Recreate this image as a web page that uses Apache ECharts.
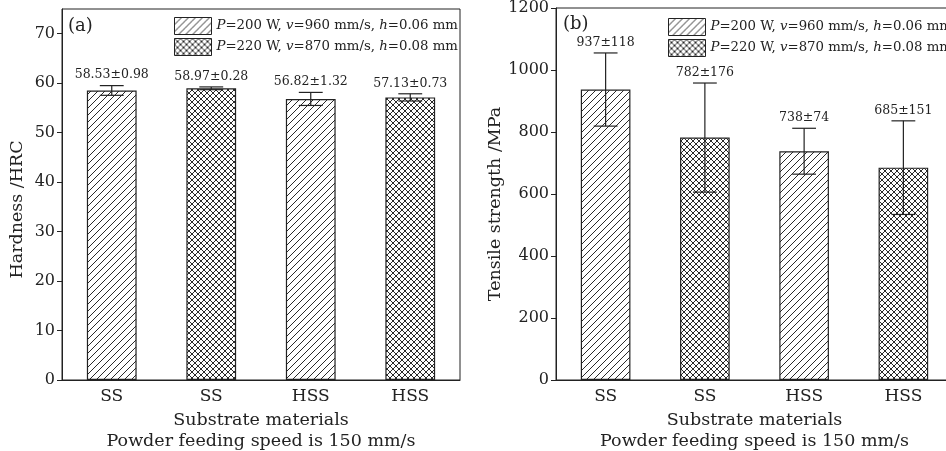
<!DOCTYPE html>
<html><head><meta charset="utf-8">
<script src="https://cdn.jsdelivr.net/npm/echarts@6/dist/echarts.min.js"></script>
<style>html,body{margin:0;padding:0;background:#fff}#c{width:946px;height:451px}</style>
</head><body><div id="c"></div>
<script>
// ---------------- data ----------------
const categories = ['SS', 'SS', 'HSS', 'HSS'];
const seriesNames = ['P=200 W, v=960 mm/s, h=0.06 mm', 'P=220 W, v=870 mm/s, h=0.08 mm'];
const barGroup = [0, 1, 0, 1];            // parameter set of each bar
const hardnessMean = [58.53, 58.97, 56.82, 57.13];
const hardnessErr = [0.98, 0.28, 1.32, 0.73];
const tensileMean = [937, 782, 738, 685];
const tensileErr = [118, 176, 74, 151];
const hardnessTicks = [0, 10, 20, 30, 40, 50, 60, 70];
const tensileTicks = [0, 200, 400, 600, 800, 1000, 1200];
const panelLabels = ['(a)', '(b)'];
const yTitles = ['Hardness /HRC', 'Tensile strength /MPa'];
const xTitle = 'Substrate materials\nPowder feeding speed is 150 mm/s';

// ---------------- style ----------------
const ink = '#222';
const FONT = 'DejaVu Serif';

function makePattern(kind) {
  const s = kind === 'diag' ? 7 : 6;
  const cv = document.createElement('canvas');
  cv.width = s; cv.height = s;
  const ctx = cv.getContext('2d');
  ctx.fillStyle = '#fff'; ctx.fillRect(0, 0, s, s);
  ctx.strokeStyle = '#2a2a2a'; ctx.lineWidth = 1;
  const seg = (a, b, c, d) => { ctx.beginPath(); ctx.moveTo(a, b); ctx.lineTo(c, d); ctx.stroke(); };
  seg(-1, s + 1, s + 1, -1); seg(-1, 1, 1, -1); seg(s - 1, s + 1, s + 1, s - 1);
  if (kind === 'cross') {
    seg(-1, -1, s + 1, s + 1); seg(s - 1, -1, s + 1, 1); seg(-1, s - 1, 1, s + 1);
  }
  return { image: cv, repeat: 'repeat' };
}
const patterns = [makePattern('diag'), makePattern('cross')];

function splitByGroup(vals, g) {
  return vals.map((v, i) => (barGroup[i] === g ? v : '-'));
}

function errorRenderer(fontSize, fmt) {
  return function (params, api) {
    const i = api.value(0), v = api.value(1), e = api.value(2);
    const top = api.coord([i, v + e]);
    const bot = api.coord([i, v - e]);
    const half = api.size([1, 0])[0] * 0.5 * 0.24;
    const ls = { stroke: ink, lineWidth: 1.2 };
    return {
      type: 'group',
      children: [
        { type: 'line', shape: { x1: top[0], y1: top[1], x2: bot[0], y2: bot[1] }, style: ls },
        { type: 'line', shape: { x1: top[0] - half, y1: top[1], x2: top[0] + half, y2: top[1] }, style: ls },
        { type: 'line', shape: { x1: bot[0] - half, y1: bot[1], x2: bot[0] + half, y2: bot[1] }, style: ls },
        { type: 'text', x: top[0], y: top[1] - 4,
          style: { text: fmt(v, e), align: 'center', verticalAlign: 'bottom',
                   fontFamily: FONT, fontSize: fontSize, fill: ink } }
      ]
    };
  };
}

function legendFmt(name) {
  return name.replace(/^P/, '{i|P}').replace(/ v=/, ' {i|v}=').replace(/ h=/, ' {i|h}=');
}

const grids = [
  { left: 62, top: 9, width: 398, height: 371 },
  { left: 556, top: 8, width: 397, height: 372 }
];

function xAxisDef(gi) {
  return {
    type: 'category', gridIndex: gi, data: categories,
    axisLine: { lineStyle: { color: ink, width: 1 } },
    axisTick: { show: false },
    axisLabel: { color: ink, fontFamily: FONT, fontSize: 17, margin: 8 },
    name: xTitle, nameLocation: 'middle', nameGap: 21,
    nameTextStyle: { color: ink, fontFamily: FONT, fontSize: 17.5, lineHeight: 21, verticalAlign: 'top' }
  };
}
function yAxisDef(gi, max, interval, ticks, title, gap, shift) {
  return {
    type: 'value', gridIndex: gi, min: 0, max: max, interval: interval,
    splitLine: { show: false },
    axisLine: { show: true, lineStyle: { color: ink, width: 1 } },
    axisTick: { show: true, inside: false, length: 5, customValues: ticks, lineStyle: { color: ink } },
    axisLabel: { color: ink, fontFamily: FONT, fontSize: 16, margin: 7, customValues: ticks,
                 formatter: v => String(v) },
    name: title, nameLocation: 'middle', nameGap: gap, nameRotate: 90,
    nameTextStyle: { color: ink, fontFamily: FONT, fontSize: 17.5, padding: [0, shift, 0, 0] }
  };
}

function legendDef(left, top) {
  return {
    orient: 'vertical', left: left, top: top, padding: 0, itemWidth: 37, itemHeight: 17, itemGap: 3,
    icon: 'rect', selectedMode: false, data: seriesNames, formatter: legendFmt,
    itemStyle: { borderColor: ink, borderWidth: 1 },
    textStyle: { color: ink, fontFamily: FONT, fontSize: 13.3, lineHeight: 18,
                 rich: { i: { fontStyle: 'italic', fontFamily: FONT, fontSize: 13.3, color: ink } } }
  };
}

const series = [];
[[hardnessMean, hardnessErr, 0], [tensileMean, tensileErr, 1]].forEach(([means, errs, gi]) => {
  [0, 1].forEach(g => {
    series.push({
      type: 'bar', name: seriesNames[g], xAxisIndex: gi, yAxisIndex: gi,
      data: splitByGroup(means, g), barWidth: '50%', barGap: '-100%',
      itemStyle: { color: patterns[g], borderColor: ink, borderWidth: 1.2 },
      emphasis: { disabled: true }, animation: false
    });
  });
  series.push({
    type: 'custom', xAxisIndex: gi, yAxisIndex: gi, z: 5, animation: false,
    renderItem: errorRenderer(12.5,
      gi === 0 ? (v, e) => v.toFixed(2) + '±' + e.toFixed(2) : (v, e) => v + '±' + e),
    data: means.map((v, i) => [i, v, errs[i]])
  });
});

const chart = echarts.init(document.getElementById('c'), null, { renderer: 'canvas' });
chart.setOption({
  backgroundColor: '#fff',
  animation: false,
  title: [
    { text: panelLabels[0], left: 68, top: 17, padding: 0,
      textStyle: { color: ink, fontFamily: FONT, fontSize: 18, fontWeight: 'normal' } },
    { text: panelLabels[1], left: 563, top: 15, padding: 0,
      textStyle: { color: ink, fontFamily: FONT, fontSize: 18, fontWeight: 'normal' } }
  ],
  legend: [legendDef(174, 17), legendDef(668, 18)],
  grid: grids.map(g => Object.assign({ show: true, borderColor: ink, borderWidth: 1,
    backgroundColor: 'transparent', outerBoundsMode: 'none', containLabel: false }, g)),
  xAxis: [xAxisDef(0), xAxisDef(1)],
  yAxis: [yAxisDef(0, 75, 10, hardnessTicks, yTitles[0], 35.5, 30),
          yAxisDef(1, 1200, 200, tensileTicks, yTitles[1], 47, 20)],
  series: series
});
</script></body></html>
